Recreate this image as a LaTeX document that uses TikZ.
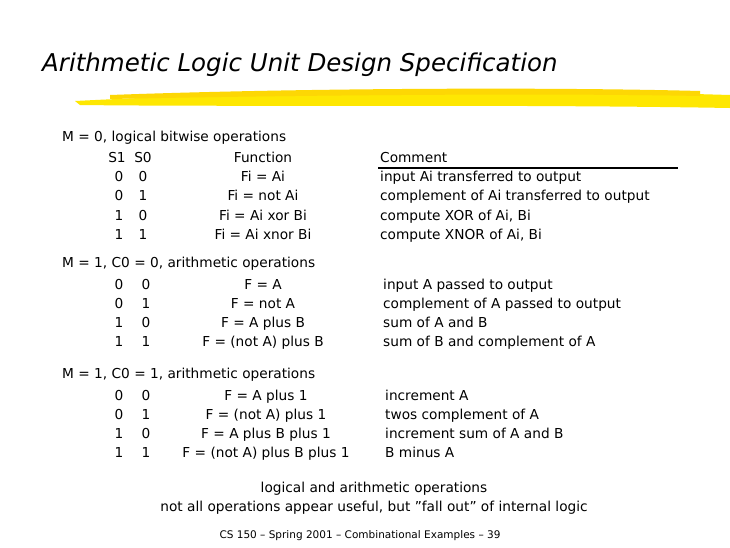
\documentclass[tikz,border=0pt]{standalone}
\usepackage{fontspec}
\setmainfont{DejaVu Sans}
\begin{document}
\begin{tikzpicture}[x=1pt,y=-1pt,
  txt/.style={inner sep=0pt,text height=10pt,text depth=3pt,font=\fontsize{13.7}{15}\selectfont},
  lt/.style={txt,anchor=west},
  ct/.style={txt,anchor=center}]
\useasboundingbox[fill=white] (0,0) rectangle (730,547);
\node[anchor=west,inner sep=0pt,font=\fontsize{24.5}{28}\selectfont\itshape] (title) at (42,65) {Arithmetic Logic Unit Design Specification};
% yellow brush stroke
\fill[yellow!90!orange] (75,101) .. controls (250,92) and (500,88) .. (730,95) -- (730,108) .. controls (500,104) and (250,107) .. (80,105) -- cycle;
\fill[yellow!75!orange] (110,95) .. controls (300,88) and (550,87) .. (700,91) -- (700,96) .. controls (550,93) and (300,95) .. (110,99) -- cycle;
% section 1
\node[lt] (h1) at (62,138) {M = 0, logical bitwise operations};
\node[ct] (s1) at (117,159) {S1};
\node[ct] (s0) at (143,159) {S0};
\node[ct] (fn) at (263,159) {Function};
\node[lt] (cm) at (380,159) {Comment};
\draw[line width=1.2pt] (378,168) -- (678,168);
\foreach \a/\b/\f/\c [count=\i] in {0/0/{Fi = Ai}/{input Ai transferred to output},0/1/{Fi = not Ai}/{complement of Ai transferred to output},1/0/{Fi = Ai xor Bi}/{compute XOR of Ai, Bi},1/1/{Fi = Ai xnor Bi}/{compute XNOR of Ai, Bi}}{
  \node[ct] (a\i) at (119,158+19.5*\i) {\a};
  \node[ct] (b\i) at (143,158+19.5*\i) {\b};
  \node[ct] (f\i) at (263,158+19.5*\i) {\f};
  \node[lt] (c\i) at (380,158+19.5*\i) {\c};
}
% section 2
\node[lt] (h2) at (62,264) {M = 1, C0 = 0, arithmetic operations};
\foreach \a/\b/\f/\c [count=\i] in {0/0/{F = A}/{input A passed to output},0/1/{F = not A}/{complement of A passed to output},1/0/{F = A plus B}/{sum of A and B},1/1/{F = (not A) plus B}/{sum of B and complement of A}}{
  \node[ct] (p\i) at (119,267+19*\i) {\a};
  \node[ct] (q\i) at (146,267+19*\i) {\b};
  \node[ct] (g\i) at (263,267+19*\i) {\f};
  \node[lt] (d\i) at (383,267+19*\i) {\c};
}
% section 3
\node[lt] (h3) at (62,375) {M = 1, C0 = 1, arithmetic operations};
\foreach \a/\b/\f/\c [count=\i] in {0/0/{F = A plus 1}/{increment A},0/1/{F = (not A) plus 1}/{twos complement of A},1/0/{F = A plus B plus 1}/{increment sum of A and B},1/1/{F = (not A) plus B plus 1}/{B minus A}}{
  \node[ct] (u\i) at (119,378+19*\i) {\a};
  \node[ct] (v\i) at (146,378+19*\i) {\b};
  \node[ct] (k\i) at (266,378+19*\i) {\f};
  \node[lt] (e\i) at (385,378+19*\i) {\c};
}
\node[ct] (n1) at (374,489) {logical and arithmetic operations};
\node[ct] (n2) at (374,508) {not all operations appear useful, but \symbol{34}fall out\symbol{34} of internal logic};
\node[ct,font=\fontsize{10.5}{12}\selectfont] (foot) at (360,535) {CS 150 -- Spring 2001 -- Combinational Examples -- 39};
\end{tikzpicture}
\end{document}
